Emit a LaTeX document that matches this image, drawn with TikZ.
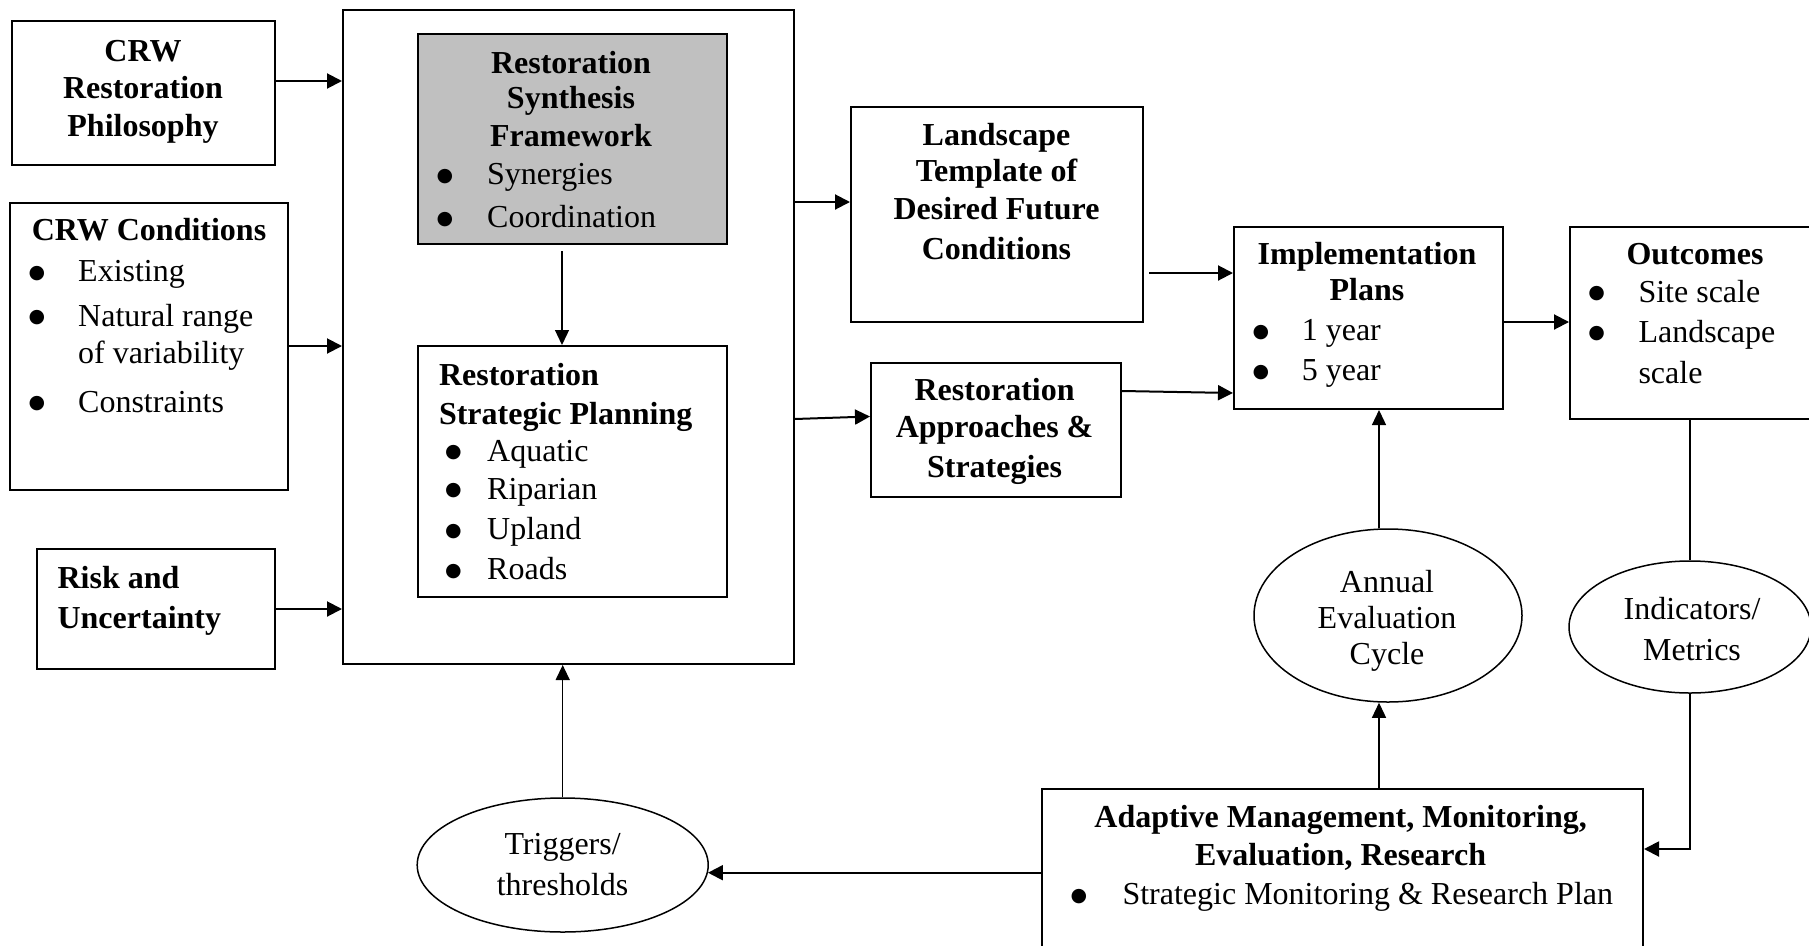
\documentclass[tikz,border=0pt]{standalone}
\usepackage{fontspec}
\setmainfont{Liberation Serif}
\newfontfamily\dvsans{DejaVu Sans}
\usetikzlibrary{arrows.meta,shapes.geometric}
\tikzset{
  box/.style={draw, line width=2pt, anchor=north west, inner sep=0pt},
  oval/.style={draw, ellipse, line width=1.5pt, inner sep=0pt},
  tc/.style={anchor=base, inner sep=0pt, yshift=-1.5pt, font=\fontsize{32}{37}\selectfont},
  tb/.style={tc, font=\fontsize{32}{37}\selectfont\bfseries},
  tl/.style={anchor=base west, inner sep=0pt, yshift=-1.5pt, font=\fontsize{32}{37}\selectfont},
  tlb/.style={tl, font=\fontsize{32}{37}\selectfont\bfseries},
  bul/.style={anchor=base, inner sep=0pt, yshift=-1.5pt, font=\dvsans\fontsize{19}{19}\selectfont},
  arr/.style={line width=2pt, -{Triangle[length=15pt,width=15pt]}},
  thinarr/.style={line width=1.3pt, -{Triangle[length=15pt,width=14pt]}},
  plain/.style={line width=2pt},
}
\newcommand{\bigbul}{\raisebox{3.5pt}{●}}
\definecolor{synthgray}{HTML}{C0C0C0}
\begin{document}
\begin{tikzpicture}[x=1pt,y=-1pt]
\useasboundingbox (0,0) rectangle (1809,945);
% boxes
\node[box, minimum width=263pt, minimum height=144pt] (phil) at (11,20) {};
\node[box, minimum width=451pt, minimum height=654pt] (big) at (342,9) {};
\node[box, fill=synthgray, minimum width=309pt, minimum height=210pt] (synth) at (417,33) {};
\node[box, minimum width=278pt, minimum height=287pt] (cond) at (9,202) {};
\node[box, minimum width=238pt, minimum height=120pt] (risk) at (36,548) {};
\node[box, minimum width=309pt, minimum height=251pt] (strat) at (417,345) {};
\node[box, minimum width=292pt, minimum height=215pt] (land) at (850,106) {};
\node[box, minimum width=250pt, minimum height=134pt] (appr) at (870,362) {};
\node[box, minimum width=269pt, minimum height=182pt] (impl) at (1233,226) {};
\node[box, minimum width=270pt, minimum height=192pt] (out) at (1569,226) {};
\node[box, minimum width=601pt, minimum height=200pt] (adapt) at (1041,788) {};
\node[oval, minimum width=268pt, minimum height=173pt] (annual) at (1388,615.5) {};
\node[oval, minimum width=242pt, minimum height=132pt] (ind) at (1690,627) {};
\node[oval, minimum width=291pt, minimum height=134pt] (trig) at (562.7,865) {};
% texts: philosophy
\node[tb] (p1) at (143,60) {CRW};
\node[tb] (p2) at (143,97) {Restoration};
\node[tb] (p3) at (143,135) {Philosophy};
% synthesis
\node[tb] (s1) at (571,72) {Restoration};
\node[tb] (s2) at (571,107) {Synthesis};
\node[tb] (s3) at (571,145) {Framework};
\node[bul] (sb1) at (445,183) {\bigbul};
\node[tl] (s4) at (487,183) {Synergies};
\node[bul] (sb2) at (445,226) {\bigbul};
\node[tl] (s5) at (487,226) {Coordination};
% conditions
\node[tlb] (c1) at (31.6,239.3) {CRW Conditions};
\node[bul] (cb1) at (37,280) {\bigbul};
\node[tl] (c2) at (78,280) {Existing};
\node[bul] (cb2) at (37,324.5) {\bigbul};
\node[tl] (c3) at (78,324.5) {Natural range};
\node[tl] (c4) at (78,361.7) {of variability};
\node[bul] (cb3) at (37,410.7) {\bigbul};
\node[tl] (c5) at (78,410.7) {Constraints};
% risk
\node[tlb] (r1) at (57.4,587) {Risk and};
\node[tlb] (r2) at (57.4,626.7) {Uncertainty};
% strategic planning
\node[tlb] (sp1) at (438.8,384) {Restoration};
\node[tlb] (sp2) at (438.8,422.7) {Strategic Planning};
\node[bul] (spb1) at (453.3,459.5) {\bigbul};
\node[tl] (sp3) at (487,459.5) {Aquatic};
\node[bul] (spb2) at (453.3,497.5) {\bigbul};
\node[tl] (sp4) at (487,497.5) {Riparian};
\node[bul] (spb3) at (453.3,538) {\bigbul};
\node[tl] (sp5) at (487,538) {Upland};
\node[bul] (spb4) at (453.3,578) {\bigbul};
\node[tl] (sp6) at (487,578) {Roads};
% landscape
\node[tb] (l1) at (996.5,144.3) {Landscape};
\node[tb] (l2) at (996.5,180) {Template of};
\node[tb] (l3) at (996.5,218) {Desired Future};
\node[tb] (l4) at (996.5,257.5) {Conditions};
% approaches
\node[tb] (a1) at (994.6,399.3) {Restoration};
\node[tb] (a2) at (994.6,436) {Approaches \&};
\node[tb] (a3) at (994.6,476) {Strategies};
% implementation
\node[tb] (i1) at (1367,263.3) {Implementation};
\node[tb] (i2) at (1367,299.3) {Plans};
\node[bul] (ib1) at (1261,339.3) {\bigbul};
\node[tl] (i3) at (1301.6,339.3) {1 year};
\node[bul] (ib2) at (1261,379) {\bigbul};
\node[tl] (i4) at (1301.6,379) {5 year};
% outcomes
\node[tb] (o1) at (1695,263.3) {Outcomes};
\node[bul] (ob1) at (1596.7,300.5) {\bigbul};
\node[tl] (o2) at (1638.3,300.5) {Site scale};
\node[bul] (ob2) at (1596.7,340.5) {\bigbul};
\node[tl] (o3) at (1638.3,340.5) {Landscape};
\node[tl] (o4) at (1638.3,382.2) {scale};
% ellipses text
\node[tc] (e1) at (1387,591) {Annual};
\node[tc] (e2) at (1387,626.5) {Evaluation};
\node[tc] (e3) at (1387,663) {Cycle};
\node[tc] (n1) at (1692,617.5) {Indicators/};
\node[tc] (n2) at (1692,659) {Metrics};
\node[tc] (g1) at (562.6,852.5) {Triggers/};
\node[tc] (g2) at (562.6,893.5) {thresholds};
% adaptive
\node[tb] (ad1) at (1340.6,826) {Adaptive Management, Monitoring,};
\node[tb] (ad2) at (1340.6,864) {Evaluation, Research};
\node[bul] (adb1) at (1079,903) {\bigbul};
\node[tl] (ad3) at (1122.3,903) {Strategic Monitoring \& Research Plan};
% connectors
\draw[arr] (phil.east |- 0,81) -- (big.west |- 0,81);
\draw[arr] (cond.east |- 0,346) -- (big.west |- 0,346);
\draw[arr] (risk.east |- 0,609) -- (big.west |- 0,609);
\coordinate (sa) at ([shift={(-10.5,6)}]synth.south);
\draw[thinarr] (sa) -- (strat.north -| sa);
\draw[arr] (big.east |- 0,202) -- (land.west |- 0,202);
\draw[arr] (big.east |- 0,419) -- (appr.west |- 0,416.5);
\draw[arr] ([xshift=5pt]land.east |- 0,273) -- (impl.west |- 0,273);
\draw[arr] (appr.east |- 0,391) -- (impl.west |- 0,393);
\draw[arr] (impl.east |- 0,322) -- (out.west |- 0,322);
\draw[plain] (out.south -| ind.north) -- (ind.north);
\draw[arr] (ind.south) -- (ind.south |- 0,849) -- (adapt.east |- 0,849);
\draw[thinarr] (adapt.north -| 1379,0) -- (annual.south -| 1379,0);
\draw[thinarr] (annual.north -| 1379,0) -- (impl.south -| 1379,0);
\draw[arr] (adapt.west |- 0,872.7) -- ([shift={(-1,7.7)}]trig.east);
\draw[thinarr] (trig.north) -- (big.south -| trig.north);
\end{tikzpicture}
\end{document}
